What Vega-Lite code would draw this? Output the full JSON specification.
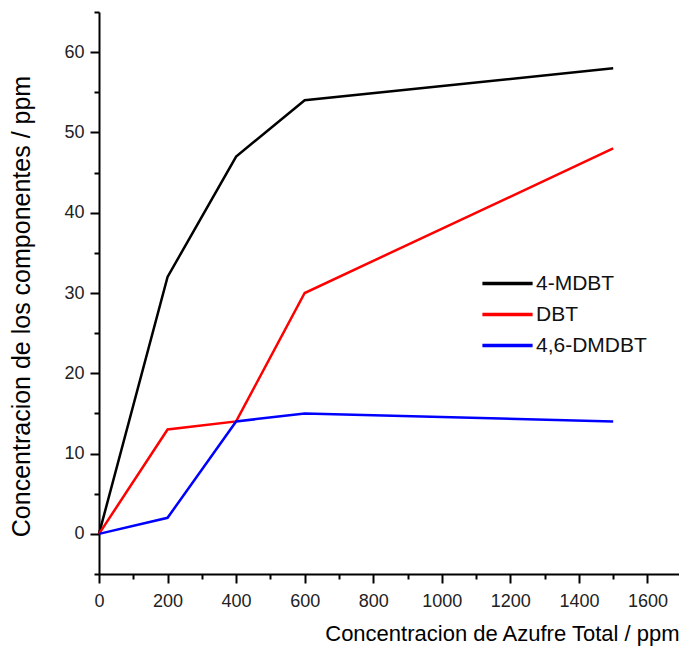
{
  "$schema": "https://vega.github.io/schema/vega-lite/v6.json",
  "autosize": "none",
  "width": 580,
  "height": 562,
  "padding": {"left": 99, "top": 12, "right": 0, "bottom": 82},
  "background": "white",
  "config": {
    "view": {"stroke": null},
    "font": "Liberation Sans",
    "axis": {
      "grid": false,
      "domainColor": "#000",
      "domainWidth": 2,
      "tickColor": "#000",
      "tickWidth": 2,
      "labelColor": "#222",
      "labelFont": "Liberation Sans",
      "labelFontSize": 18,
      "titleFont": "Liberation Sans",
      "titleFontWeight": "normal",
      "titleColor": "#000",
      "labelOverlap": false,
      "labelFlush": false
    }
  },
  "data": {
    "values": [
      {"s": 0, "c": 0, "comp": "4-MDBT"},
      {"s": 200, "c": 32, "comp": "4-MDBT"},
      {"s": 400, "c": 47, "comp": "4-MDBT"},
      {"s": 600, "c": 54, "comp": "4-MDBT"},
      {"s": 1500, "c": 58, "comp": "4-MDBT"},
      {"s": 0, "c": 0, "comp": "DBT"},
      {"s": 200, "c": 13, "comp": "DBT"},
      {"s": 400, "c": 14, "comp": "DBT"},
      {"s": 600, "c": 30, "comp": "DBT"},
      {"s": 1500, "c": 48, "comp": "DBT"},
      {"s": 0, "c": 0, "comp": "4,6-DMDBT"},
      {"s": 200, "c": 2, "comp": "4,6-DMDBT"},
      {"s": 400, "c": 14, "comp": "4,6-DMDBT"},
      {"s": 600, "c": 15, "comp": "4,6-DMDBT"},
      {"s": 1500, "c": 14, "comp": "4,6-DMDBT"}
    ]
  },
  "mark": {"type": "line", "strokeWidth": 2.5},
  "encoding": {
    "x": {
      "field": "s",
      "type": "quantitative",
      "scale": {"domain": [0, 1692], "nice": false, "zero": false},
      "axis": {
        "title": "Concentracion de Azufre Total / ppm",
        "titleFontSize": 22,
        "titleAnchor": "end",
        "titlePadding": 13,
        "values": [0, 100, 200, 300, 400, 500, 600, 700, 800, 900, 1000, 1100, 1200, 1300, 1400, 1500, 1600],
        "format": "d",
        "labelExpr": "datum.value % 200 === 0 ? datum.label : ''",
        "tickSize": {"condition": {"test": "datum.value % 200 === 0", "value": 9}, "value": 5},
        "labelPadding": 9
      }
    },
    "y": {
      "field": "c",
      "type": "quantitative",
      "scale": {"domain": [-5, 65], "nice": false, "zero": false},
      "axis": {
        "title": "Concentracion de los componentes / ppm",
        "titleFontSize": 25,
        "titlePadding": 29,
        "titleY": 294,
        "values": [-5, 0, 5, 10, 15, 20, 25, 30, 35, 40, 45, 50, 55, 60, 65],
        "labelExpr": "datum.value % 10 === 0 ? datum.label : ''",
        "tickSize": {"condition": {"test": "datum.value % 10 === 0", "value": 9}, "value": 5},
        "labelPadding": 6
      }
    },
    "color": {
      "field": "comp",
      "type": "nominal",
      "scale": {"domain": ["4-MDBT", "DBT", "4,6-DMDBT"], "range": ["#000000", "#ff0000", "#0000ff"]},
      "legend": {
        "title": null,
        "orient": "none",
        "legendX": 398,
        "legendY": 261,
        "padding": 0,
        "symbolType": "M-3,0H3",
        "symbolSize": 280,
        "symbolStrokeWidth": 3.5,
        "labelOffset": 18,
        "labelFontSize": 21,
        "labelColor": "#111",
        "labelFont": "Liberation Sans",
        "rowPadding": 9
      }
    }
  }
}
